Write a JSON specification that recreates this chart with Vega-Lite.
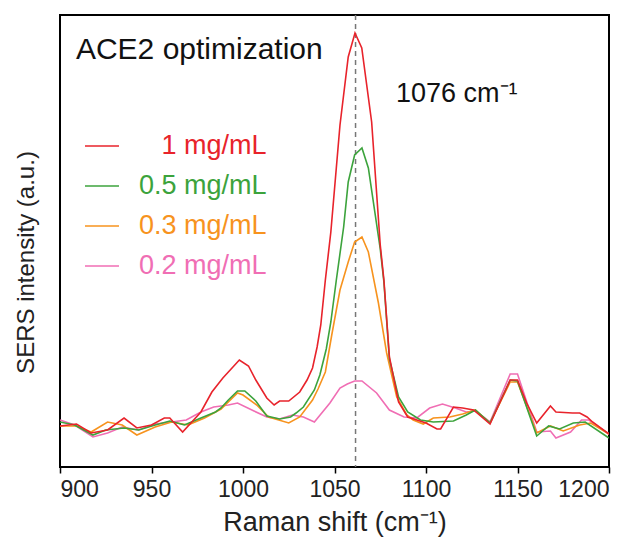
{
  "$schema": "https://vega.github.io/schema/vega-lite/v6.json",
  "width": 549,
  "height": 452,
  "autosize": {"type": "none"},
  "padding": {"left": 60, "top": 15, "right": 30, "bottom": 83},
  "background": "white",
  "config": {
    "view": {"stroke": "black", "strokeWidth": 2},
    "font": "Liberation Sans"
  },
  "datasets": {
    "spectra": [
      {"s": "0.2 mg/mL", "x": 900, "y": 47}, {"s": "0.2 mg/mL", "x": 908, "y": 42}, {"s": "0.2 mg/mL", "x": 918, "y": 30}, {"s": "0.2 mg/mL", "x": 926, "y": 34}, {"s": "0.2 mg/mL", "x": 934, "y": 40}, {"s": "0.2 mg/mL", "x": 943, "y": 37}, {"s": "0.2 mg/mL", "x": 952, "y": 43}, {"s": "0.2 mg/mL", "x": 961, "y": 45}, {"s": "0.2 mg/mL", "x": 969, "y": 47}, {"s": "0.2 mg/mL", "x": 977, "y": 55}, {"s": "0.2 mg/mL", "x": 984, "y": 60}, {"s": "0.2 mg/mL", "x": 992, "y": 62}, {"s": "0.2 mg/mL", "x": 997, "y": 64}, {"s": "0.2 mg/mL", "x": 1006, "y": 56}, {"s": "0.2 mg/mL", "x": 1013, "y": 50}, {"s": "0.2 mg/mL", "x": 1020, "y": 48}, {"s": "0.2 mg/mL", "x": 1027, "y": 52}, {"s": "0.2 mg/mL", "x": 1033, "y": 50}, {"s": "0.2 mg/mL", "x": 1039, "y": 45}, {"s": "0.2 mg/mL", "x": 1047.5, "y": 64}, {"s": "0.2 mg/mL", "x": 1053, "y": 79}, {"s": "0.2 mg/mL", "x": 1057, "y": 83}, {"s": "0.2 mg/mL", "x": 1061, "y": 86}, {"s": "0.2 mg/mL", "x": 1065, "y": 86}, {"s": "0.2 mg/mL", "x": 1073, "y": 74}, {"s": "0.2 mg/mL", "x": 1080, "y": 57}, {"s": "0.2 mg/mL", "x": 1088, "y": 50}, {"s": "0.2 mg/mL", "x": 1095, "y": 49}, {"s": "0.2 mg/mL", "x": 1102, "y": 59}, {"s": "0.2 mg/mL", "x": 1109, "y": 63}, {"s": "0.2 mg/mL", "x": 1116, "y": 59}, {"s": "0.2 mg/mL", "x": 1122, "y": 55}, {"s": "0.2 mg/mL", "x": 1127, "y": 56}, {"s": "0.2 mg/mL", "x": 1135, "y": 45}, {"s": "0.2 mg/mL", "x": 1146, "y": 93}, {"s": "0.2 mg/mL", "x": 1150, "y": 93}, {"s": "0.2 mg/mL", "x": 1160.5, "y": 35}, {"s": "0.2 mg/mL", "x": 1168, "y": 36}, {"s": "0.2 mg/mL", "x": 1171, "y": 29}, {"s": "0.2 mg/mL", "x": 1179, "y": 35}, {"s": "0.2 mg/mL", "x": 1185, "y": 47}, {"s": "0.2 mg/mL", "x": 1189, "y": 47}, {"s": "0.2 mg/mL", "x": 1200, "y": 33},

      {"s": "0.3 mg/mL", "x": 900, "y": 41}, {"s": "0.3 mg/mL", "x": 909, "y": 41}, {"s": "0.3 mg/mL", "x": 917, "y": 35}, {"s": "0.3 mg/mL", "x": 926, "y": 45}, {"s": "0.3 mg/mL", "x": 934, "y": 42}, {"s": "0.3 mg/mL", "x": 942, "y": 32}, {"s": "0.3 mg/mL", "x": 952, "y": 40}, {"s": "0.3 mg/mL", "x": 961, "y": 45}, {"s": "0.3 mg/mL", "x": 970, "y": 42}, {"s": "0.3 mg/mL", "x": 979, "y": 49}, {"s": "0.3 mg/mL", "x": 988, "y": 58}, {"s": "0.3 mg/mL", "x": 997, "y": 74}, {"s": "0.3 mg/mL", "x": 1000, "y": 72}, {"s": "0.3 mg/mL", "x": 1007.5, "y": 62}, {"s": "0.3 mg/mL", "x": 1014, "y": 50}, {"s": "0.3 mg/mL", "x": 1025, "y": 44}, {"s": "0.3 mg/mL", "x": 1031, "y": 50}, {"s": "0.3 mg/mL", "x": 1038, "y": 67}, {"s": "0.3 mg/mL", "x": 1041, "y": 78}, {"s": "0.3 mg/mL", "x": 1045, "y": 95}, {"s": "0.3 mg/mL", "x": 1048.5, "y": 132}, {"s": "0.3 mg/mL", "x": 1053, "y": 177}, {"s": "0.3 mg/mL", "x": 1057.5, "y": 205}, {"s": "0.3 mg/mL", "x": 1061, "y": 225}, {"s": "0.3 mg/mL", "x": 1065, "y": 230}, {"s": "0.3 mg/mL", "x": 1068.5, "y": 215}, {"s": "0.3 mg/mL", "x": 1074, "y": 164}, {"s": "0.3 mg/mL", "x": 1078.5, "y": 114}, {"s": "0.3 mg/mL", "x": 1084, "y": 70}, {"s": "0.3 mg/mL", "x": 1089.5, "y": 52}, {"s": "0.3 mg/mL", "x": 1093, "y": 47}, {"s": "0.3 mg/mL", "x": 1098.5, "y": 43}, {"s": "0.3 mg/mL", "x": 1104, "y": 49}, {"s": "0.3 mg/mL", "x": 1113, "y": 50}, {"s": "0.3 mg/mL", "x": 1120, "y": 53}, {"s": "0.3 mg/mL", "x": 1127, "y": 57}, {"s": "0.3 mg/mL", "x": 1135, "y": 44}, {"s": "0.3 mg/mL", "x": 1146, "y": 85}, {"s": "0.3 mg/mL", "x": 1150, "y": 85}, {"s": "0.3 mg/mL", "x": 1160.5, "y": 34}, {"s": "0.3 mg/mL", "x": 1168, "y": 41}, {"s": "0.3 mg/mL", "x": 1175, "y": 36}, {"s": "0.3 mg/mL", "x": 1184, "y": 42}, {"s": "0.3 mg/mL", "x": 1190, "y": 44}, {"s": "0.3 mg/mL", "x": 1200, "y": 33},

      {"s": "0.5 mg/mL", "x": 900, "y": 45}, {"s": "0.5 mg/mL", "x": 908, "y": 42}, {"s": "0.5 mg/mL", "x": 918, "y": 32}, {"s": "0.5 mg/mL", "x": 925, "y": 37}, {"s": "0.5 mg/mL", "x": 935, "y": 39}, {"s": "0.5 mg/mL", "x": 943, "y": 37}, {"s": "0.5 mg/mL", "x": 952, "y": 42}, {"s": "0.5 mg/mL", "x": 960, "y": 46}, {"s": "0.5 mg/mL", "x": 968, "y": 42}, {"s": "0.5 mg/mL", "x": 977, "y": 49}, {"s": "0.5 mg/mL", "x": 985, "y": 55}, {"s": "0.5 mg/mL", "x": 988, "y": 59}, {"s": "0.5 mg/mL", "x": 992, "y": 67}, {"s": "0.5 mg/mL", "x": 997, "y": 76}, {"s": "0.5 mg/mL", "x": 1001, "y": 76}, {"s": "0.5 mg/mL", "x": 1007, "y": 66}, {"s": "0.5 mg/mL", "x": 1013, "y": 51}, {"s": "0.5 mg/mL", "x": 1020, "y": 48}, {"s": "0.5 mg/mL", "x": 1026, "y": 50}, {"s": "0.5 mg/mL", "x": 1029, "y": 54}, {"s": "0.5 mg/mL", "x": 1033, "y": 60}, {"s": "0.5 mg/mL", "x": 1039, "y": 77}, {"s": "0.5 mg/mL", "x": 1042, "y": 92}, {"s": "0.5 mg/mL", "x": 1045.5, "y": 118}, {"s": "0.5 mg/mL", "x": 1048, "y": 145}, {"s": "0.5 mg/mL", "x": 1051, "y": 187}, {"s": "0.5 mg/mL", "x": 1055, "y": 240}, {"s": "0.5 mg/mL", "x": 1057.5, "y": 285}, {"s": "0.5 mg/mL", "x": 1061, "y": 312}, {"s": "0.5 mg/mL", "x": 1065, "y": 319}, {"s": "0.5 mg/mL", "x": 1068.5, "y": 299}, {"s": "0.5 mg/mL", "x": 1075, "y": 218}, {"s": "0.5 mg/mL", "x": 1077, "y": 185}, {"s": "0.5 mg/mL", "x": 1080, "y": 108}, {"s": "0.5 mg/mL", "x": 1085, "y": 70}, {"s": "0.5 mg/mL", "x": 1090, "y": 55}, {"s": "0.5 mg/mL", "x": 1097, "y": 47}, {"s": "0.5 mg/mL", "x": 1104, "y": 45}, {"s": "0.5 mg/mL", "x": 1115, "y": 46}, {"s": "0.5 mg/mL", "x": 1122, "y": 52}, {"s": "0.5 mg/mL", "x": 1127, "y": 57}, {"s": "0.5 mg/mL", "x": 1135, "y": 44}, {"s": "0.5 mg/mL", "x": 1146, "y": 87}, {"s": "0.5 mg/mL", "x": 1150, "y": 86}, {"s": "0.5 mg/mL", "x": 1160.5, "y": 31}, {"s": "0.5 mg/mL", "x": 1167, "y": 41}, {"s": "0.5 mg/mL", "x": 1173, "y": 38}, {"s": "0.5 mg/mL", "x": 1180.5, "y": 44}, {"s": "0.5 mg/mL", "x": 1187, "y": 45}, {"s": "0.5 mg/mL", "x": 1200, "y": 29},

      {"s": "1 mg/mL", "x": 900, "y": 41}, {"s": "1 mg/mL", "x": 909, "y": 43}, {"s": "1 mg/mL", "x": 917, "y": 34}, {"s": "1 mg/mL", "x": 926, "y": 37}, {"s": "1 mg/mL", "x": 935, "y": 49}, {"s": "1 mg/mL", "x": 942, "y": 39}, {"s": "1 mg/mL", "x": 950, "y": 42}, {"s": "1 mg/mL", "x": 957, "y": 49}, {"s": "1 mg/mL", "x": 960, "y": 49}, {"s": "1 mg/mL", "x": 967, "y": 35}, {"s": "1 mg/mL", "x": 977, "y": 55}, {"s": "1 mg/mL", "x": 983, "y": 75}, {"s": "1 mg/mL", "x": 989, "y": 89}, {"s": "1 mg/mL", "x": 998, "y": 107}, {"s": "1 mg/mL", "x": 1003, "y": 101}, {"s": "1 mg/mL", "x": 1007, "y": 87}, {"s": "1 mg/mL", "x": 1013, "y": 69}, {"s": "1 mg/mL", "x": 1017, "y": 62}, {"s": "1 mg/mL", "x": 1020, "y": 66}, {"s": "1 mg/mL", "x": 1025, "y": 66}, {"s": "1 mg/mL", "x": 1031, "y": 75}, {"s": "1 mg/mL", "x": 1035, "y": 87}, {"s": "1 mg/mL", "x": 1038, "y": 99}, {"s": "1 mg/mL", "x": 1040.5, "y": 120}, {"s": "1 mg/mL", "x": 1042.5, "y": 142}, {"s": "1 mg/mL", "x": 1045, "y": 187}, {"s": "1 mg/mL", "x": 1048, "y": 235}, {"s": "1 mg/mL", "x": 1053, "y": 342}, {"s": "1 mg/mL", "x": 1057.5, "y": 410}, {"s": "1 mg/mL", "x": 1061.2, "y": 434}, {"s": "1 mg/mL", "x": 1064.9, "y": 419}, {"s": "1 mg/mL", "x": 1070.3, "y": 345}, {"s": "1 mg/mL", "x": 1075, "y": 222}, {"s": "1 mg/mL", "x": 1077, "y": 187}, {"s": "1 mg/mL", "x": 1080, "y": 110}, {"s": "1 mg/mL", "x": 1085, "y": 65}, {"s": "1 mg/mL", "x": 1090, "y": 50}, {"s": "1 mg/mL", "x": 1095, "y": 47}, {"s": "1 mg/mL", "x": 1100, "y": 44}, {"s": "1 mg/mL", "x": 1106, "y": 38}, {"s": "1 mg/mL", "x": 1108, "y": 38}, {"s": "1 mg/mL", "x": 1115, "y": 60}, {"s": "1 mg/mL", "x": 1120, "y": 59}, {"s": "1 mg/mL", "x": 1126, "y": 57}, {"s": "1 mg/mL", "x": 1135, "y": 43}, {"s": "1 mg/mL", "x": 1146, "y": 87}, {"s": "1 mg/mL", "x": 1150, "y": 87}, {"s": "1 mg/mL", "x": 1155, "y": 64}, {"s": "1 mg/mL", "x": 1160.5, "y": 44}, {"s": "1 mg/mL", "x": 1168, "y": 61}, {"s": "1 mg/mL", "x": 1171, "y": 55}, {"s": "1 mg/mL", "x": 1180, "y": 54}, {"s": "1 mg/mL", "x": 1184, "y": 54}, {"s": "1 mg/mL", "x": 1188, "y": 50}, {"s": "1 mg/mL", "x": 1191, "y": 45}, {"s": "1 mg/mL", "x": 1200, "y": 33}
    ]
  },
  "layer": [
    {
      "data": {"values": [{"x": 1061.5}]},
      "mark": {"type": "rule", "color": "#777777", "strokeWidth": 1.5, "strokeDash": [5, 4]},
      "encoding": {"x": {"field": "x", "type": "quantitative"}}
    },
    {
      "data": {"name": "spectra"},
      "mark": {"type": "line", "strokeWidth": 1.6, "clip": true},
      "encoding": {
        "x": {
          "field": "x", "type": "quantitative",
          "scale": {"domain": [900, 1200], "nice": false, "zero": false},
          "axis": {
            "values": [900, 950, 1000, 1050, 1100, 1150, 1200],
            "format": "d",
            "grid": false, "domain": false,
            "tickColor": "black", "tickWidth": 1.5, "tickSize": 6,
            "labelFontSize": 23, "labelColor": "#222222", "labelPadding": 5,
            "labelFont": "Liberation Sans",
            "title": "Raman shift (cm⁻¹)", "titleFontSize": 27, "titleFontWeight": "normal",
            "titleColor": "#222222", "titlePadding": 8, "titleFont": "Liberation Sans"
          }
        },
        "y": {
          "field": "y", "type": "quantitative",
          "scale": {"domain": [0, 452], "nice": false, "zero": false},
          "axis": {
            "grid": false, "domain": false, "ticks": false, "labels": false,
            "title": "SERS intensity (a.u.)", "titleFontSize": 24, "titleFontWeight": "normal",
            "titleColor": "#222222", "titlePadding": 22, "titleFont": "Liberation Sans",
            "titleY": 247
          }
        },
        "color": {
          "field": "s", "type": "nominal",
          "scale": {
            "domain": ["1 mg/mL", "0.5 mg/mL", "0.3 mg/mL", "0.2 mg/mL"],
            "range": ["#e8232b", "#3ca33c", "#f7931e", "#f06eb4"]
          },
          "legend": {
            "orient": "none", "legendX": 24, "legendY": 113, "title": null,
            "symbolType": "stroke", "symbolSize": 1156, "symbolStrokeWidth": 1.5,
            "labelFontSize": 27, "labelFont": "Liberation Sans", "labelOffset": 19,
            "rowPadding": 9, "padding": 0, "labelLimit": 400,
            "encode": {
              "labels": {
                "update": {
                  "fill": {"scale": "color", "field": "value"},
                  "text": {"signal": "datum.value == '1 mg/mL' ? '\u200b\u00a0\u00a0\u00a01 mg/mL' : datum.value"}
                }
              }
            }
          }
        }
      }
    },
    {
      "data": {"values": [{"x": 908.7, "y": 408, "t": "ACE2 optimization"}]},
      "mark": {"type": "text", "align": "left", "baseline": "alphabetic", "fontSize": 30, "font": "Liberation Sans", "color": "#111111"},
      "encoding": {
        "x": {"field": "x", "type": "quantitative"},
        "y": {"field": "y", "type": "quantitative"},
        "text": {"field": "t"}
      }
    },
    {
      "data": {"values": [{"x": 1083.6, "y": 365, "t": "1076 cm⁻¹"}]},
      "mark": {"type": "text", "align": "left", "baseline": "alphabetic", "fontSize": 27, "font": "Liberation Sans", "color": "#111111"},
      "encoding": {
        "x": {"field": "x", "type": "quantitative"},
        "y": {"field": "y", "type": "quantitative"},
        "text": {"field": "t"}
      }
    }
  ]
}
